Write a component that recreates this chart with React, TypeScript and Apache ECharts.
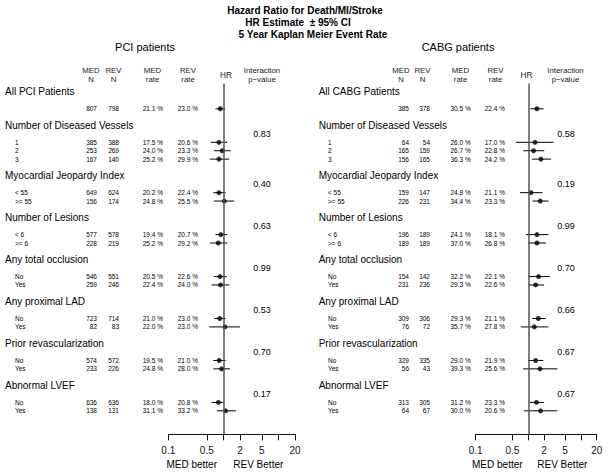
import React, { useEffect, useRef } from "react";
import * as echarts from "echarts";

const FONT = '"Liberation Sans", Arial, Helvetica, sans-serif';

// ---------- data ----------
const groupNames = [
  "Number of Diseased Vessels",
  "Myocardial Jeopardy Index",
  "Number of Lesions",
  "Any total occlusion",
  "Any proximal LAD",
  "Prior revascularization",
  "Abnormal LVEF",
];
const subgroupLabels = [
  ["1", "2", "3"],
  ["< 55", ">= 55"],
  ["< 6", ">= 6"],
  ["No", "Yes"],
  ["No", "Yes"],
  ["No", "Yes"],
  ["No", "Yes"],
];

// row order: All, then the subgroups in order
const pciMedN = [807, 385, 253, 167, 649, 156, 577, 228, 546, 259, 723, 82, 574, 233, 636, 138];
const pciRevN = [798, 388, 269, 140, 624, 174, 578, 219, 551, 246, 714, 83, 572, 226, 636, 131];
const pciMedRate = [21.1, 17.5, 24.0, 25.2, 20.2, 24.8, 19.4, 25.2, 20.5, 22.4, 21.0, 22.0, 19.5, 24.8, 18.0, 31.1];
const pciRevRate = [23.0, 20.6, 23.3, 29.9, 22.4, 25.5, 20.7, 29.2, 22.6, 24.0, 23.0, 23.0, 21.0, 28.0, 20.8, 33.2];
const pciHR = [0.88, 0.83, 0.95, 0.83, 0.83, 1.04, 0.9, 0.81, 0.87, 0.89, 0.86, 1.07, 0.84, 0.93, 0.81, 1.1];
const pciLo = [0.72, 0.59, 0.67, 0.57, 0.66, 0.67, 0.72, 0.57, 0.67, 0.61, 0.68, 0.55, 0.66, 0.66, 0.61, 0.76];
const pciHi = [1.08, 1.18, 1.36, 1.28, 1.1, 1.58, 1.18, 1.18, 1.15, 1.28, 1.1, 2.0, 1.1, 1.32, 1.0, 1.69];
const pciP = [0.83, 0.4, 0.63, 0.99, 0.53, 0.7, 0.17];

const cabgMedN = [385, 64, 165, 156, 159, 226, 196, 189, 154, 231, 309, 76, 329, 56, 313, 64];
const cabgRevN = [378, 54, 159, 165, 147, 231, 189, 189, 142, 236, 306, 72, 335, 43, 305, 67];
const cabgMedRate = [30.5, 26.0, 26.7, 36.3, 24.8, 34.4, 24.1, 37.0, 32.2, 29.3, 29.3, 35.7, 29.0, 39.3, 31.2, 30.0];
const cabgRevRate = [22.4, 17.0, 22.8, 24.2, 21.1, 23.3, 18.1, 26.8, 22.1, 22.6, 21.1, 27.8, 21.9, 25.6, 23.3, 20.6];
const cabgHR = [1.46, 1.34, 1.26, 1.74, 1.13, 1.69, 1.46, 1.46, 1.57, 1.38, 1.55, 1.3, 1.38, 1.67, 1.43, 1.71];
const cabgLo = [1.09, 0.58, 0.8, 1.17, 0.7, 1.21, 0.9, 1.0, 1.0, 1.0, 1.19, 0.72, 1.0, 0.8, 1.07, 0.83];
const cabgHi = [1.95, 3.03, 2.01, 2.7, 1.87, 2.43, 2.4, 2.17, 2.55, 2.0, 2.17, 2.4, 1.93, 3.6, 1.98, 3.6];
const cabgP = [0.58, 0.19, 0.99, 0.7, 0.66, 0.67, 0.67];

const tickValues = [0.1, 0.5, 1, 2, 5, 10, 20];
const labelValues = [0.1, 0.5, 2, 5, 20];
const titleLines = ["Hazard Ratio for Death/MI/Stroke", "HR Estimate  \u00b1 95% CI", "5 Year Kaplan Meier Event Rate"];
const colHeadersTop = ["MED", "REV", "MED", "REV", "Interaction"];
const colHeadersBottom = ["N", "N", "rate", "rate", "p\u2212value"];

// ---------- layout ----------
const GRID_TOP = 83.6;
const GRID_H = 350.7;
const Y_MIN = -1;
const Y_MAX = 40.8;
const X_MIN = Math.log10(0.1);
const X_MAX = Math.log10(20);

const panels = [
  {
    title: "PCI patients", allLabel: "All PCI Patients", titleX: 145,
    gridLeft: 168.3, gridWidth: 126.7,
    headX: 5, subX: 15, medNX: 97, revNX: 119, medRX: 163, revRX: 198,
    headerXs: [91, 113.5, 152.5, 188, 262], hrX: 226, pX: 262,
    medBetterX: 191.7, revBetterX: 258.3,
    medN: pciMedN, revN: pciRevN, medRate: pciMedRate, revRate: pciRevRate, hr: pciHR, lo: pciLo, hi: pciHi, p: pciP,
  },
  {
    title: "CABG patients", allLabel: "All CABG Patients", titleX: 458,
    gridLeft: 475.7, gridWidth: 121,
    headX: 318.7, subX: 328, medNX: 409, revNX: 430, medRX: 470.7, revRX: 505,
    headerXs: [401, 422.5, 460.5, 495.5, 565.5], hrX: 526.5, pX: 566,
    medBetterX: 497.3, revBetterX: 562.3,
    medN: cabgMedN, revN: cabgRevN, medRate: cabgMedRate, revRate: cabgRevRate, hr: cabgHR, lo: cabgLo, hi: cabgHi, p: cabgP,
  },
];

type Row = { kind: "head" | "data" | "p" | "colTop" | "colBottom" | "hr"; y: number; text?: string; idx?: number; sub?: string };

function layoutRows(allLabel: string, pVals: number[]): Row[] {
  const rows: Row[] = [];
  rows.push({ kind: "colTop", y: -2.62 });
  rows.push({ kind: "colBottom", y: -1.43 });
  rows.push({ kind: "hr", y: -2.03, text: "HR" });
  rows.push({ kind: "head", y: 0, text: allLabel });
  rows.push({ kind: "data", y: 2, idx: 0, sub: "" });
  let last = 2;
  let idx = 1;
  groupNames.forEach((g, gi) => {
    const hy = last + 2;
    rows.push({ kind: "head", y: hy, text: g });
    rows.push({ kind: "p", y: hy + 1, text: pVals[gi].toFixed(2) });
    subgroupLabels[gi].forEach((s, si) => {
      rows.push({ kind: "data", y: hy + 2 + si, idx, sub: s });
      idx++;
    });
    last = hy + 1 + subgroupLabels[gi].length;
  });
  return rows;
}

const fmtTick = (v: number) => String(+Math.pow(10, v).toPrecision(2));

export default function App() {
  const ref = useRef<HTMLDivElement>(null);
  useEffect(() => {
    if (!ref.current) return;
    const chart = echarts.init(ref.current, undefined, { renderer: "svg" });

    const grids: any[] = [];
    const xAxes: any[] = [];
    const yAxes: any[] = [];
    const series: any[] = [];
    const graphics: any[] = [];

    const txt = (x: number, y: number, text: string, size: number, align: string, weight = "normal", color = "#000") => ({
      type: "text",
      x,
      y,
      silent: true,
      style: {
        text,
        fontSize: size,
        fontFamily: FONT,
        fontWeight: weight,
        fill: color,
        textAlign: align,
        textVerticalAlign: "middle",
      },
    });

    graphics.push(txt(305, 10, titleLines[0], 10, "center", "bold"));
    graphics.push(txt(298, 22, titleLines[1], 10, "center", "bold"));
    graphics.push(txt(313, 34, titleLines[2], 10, "center", "bold"));

    panels.forEach((P, pi) => {
      grids.push({ left: P.gridLeft, width: P.gridWidth, top: GRID_TOP, height: GRID_H, containLabel: false });
      xAxes.push({
        type: "value",
        gridIndex: pi,
        position: "bottom",
        min: X_MIN,
        max: X_MAX,
        splitLine: { show: false },
        axisLine: { show: true, onZero: false, lineStyle: { color: "#111", width: 1 } },
        axisTick: {
          show: true,
          inside: false,
          length: 6,
          customValues: tickValues.map((v) => Math.log10(v)),
          lineStyle: { color: "#111", width: 1 },
        },
        axisLabel: {
          show: true,
          customValues: labelValues.map((v) => Math.log10(v)),
          formatter: fmtTick,
          fontSize: 10,
          fontFamily: FONT,
          color: "#111",
          margin: 11,
        },
      });
      yAxes.push({ type: "value", gridIndex: pi, inverse: true, min: Y_MIN, max: Y_MAX, show: false });

      const rows = layoutRows(P.allLabel, P.p);
      const dataRows = rows.filter((r) => r.kind === "data");

      // table text (column headers, group headings, rows, p-values)
      series.push({
        type: "custom",
        xAxisIndex: pi,
        yAxisIndex: pi,
        clip: false,
        silent: true,
        data: rows.map((r) => [0, r.y]),
        renderItem: (params: any, api: any) => {
          const r = rows[params.dataIndex];
          const py = api.coord([0, r.y])[1];
          if (r.kind === "colTop" || r.kind === "colBottom") {
            const labels = r.kind === "colTop" ? colHeadersTop : colHeadersBottom;
            return {
              type: "group",
              children: labels.map((l, li) => txt(P.headerXs[li], py, l, 7.8, "center", "normal", "#1a1a1a")),
            };
          }
          if (r.kind === "hr") return txt(P.hrX, py, "HR", 8.3, "center", "normal", "#1a1a1a");
          if (r.kind === "head") return txt(P.headX, py, r.text as string, 10, "left");
          if (r.kind === "p") return txt(P.pX, py, r.text as string, 9, "center");
          const i = r.idx as number;
          return {
            type: "group",
            children: [
              txt(P.subX, py, r.sub as string, 6.5, "left"),
              txt(P.medNX, py, String(P.medN[i]), 6.5, "right"),
              txt(P.revNX, py, String(P.revN[i]), 6.5, "right"),
              txt(P.medRX, py, P.medRate[i].toFixed(1) + " %", 6.5, "right"),
              txt(P.revRX, py, P.revRate[i].toFixed(1) + " %", 6.5, "right"),
            ],
          };
        },
      });

      // confidence intervals
      series.push({
        type: "custom",
        xAxisIndex: pi,
        yAxisIndex: pi,
        clip: false,
        silent: true,
        encode: { x: [0, 1], y: 2 },
        data: dataRows.map((r) => [Math.log10(P.lo[r.idx as number]), Math.log10(P.hi[r.idx as number]), r.y]),
        renderItem: (params: any, api: any) => {
          const a = api.coord([api.value(0), api.value(2)]);
          const b = api.coord([api.value(1), api.value(2)]);
          return {
            type: "line",
            shape: { x1: a[0], y1: a[1], x2: b[0], y2: b[1] },
            style: { stroke: "#000", lineWidth: 1 },
          };
        },
      });

      // HR estimates + reference line
      series.push({
        type: "scatter",
        xAxisIndex: pi,
        yAxisIndex: pi,
        symbol: "circle",
        symbolSize: 5,
        silent: true,
        itemStyle: { color: "#000" },
        data: dataRows.map((r) => [Math.log10(P.hr[r.idx as number]), r.y]),
        markLine: {
          silent: true,
          symbol: "none",
          label: { show: false },
          lineStyle: { color: "#555", width: 1.5, type: "solid" },
          data: [{ xAxis: 0 }],
        },
      });

      graphics.push(txt(P.titleX, 47, P.title, 11, "center"));
      graphics.push(txt(P.medBetterX, 464, "MED better", 10, "center"));
      graphics.push(txt(P.revBetterX, 464, "REV Better", 10, "center"));
    });

    chart.setOption({
      animation: false,
      backgroundColor: "#fff",
      grid: grids,
      xAxis: xAxes,
      yAxis: yAxes,
      series,
      graphic: graphics,
    });
    return () => chart.dispose();
  }, []);
  return (
    <div
      ref={ref}
      style={{ position: "fixed", left: 0, top: 0, width: 608, height: 473, background: "#fff" }}
    />
  );
}
